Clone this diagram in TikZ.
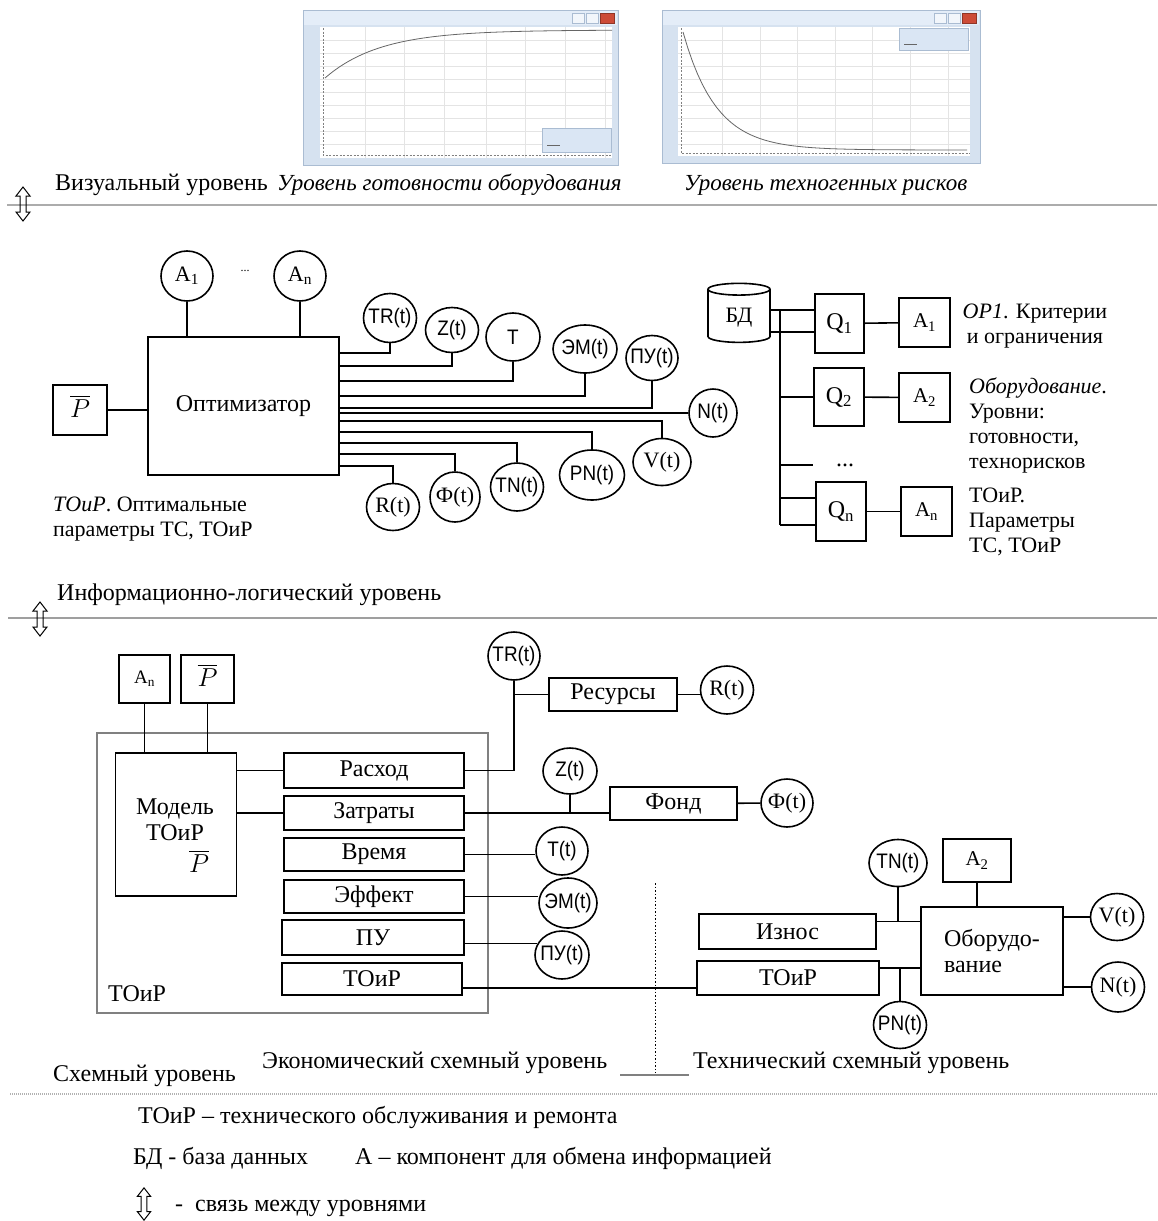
\documentclass[tikz,border=0pt]{standalone}
\usepackage{fix-cm}
\usepackage{fontspec}
\setmainfont{Liberation Serif}
\newfontfamily\circfont{Liberation Sans}[FakeStretch=0.9]
\usepackage{tikz}
\usetikzlibrary{positioning,calc,shapes.geometric}
\definecolor{winedge}{RGB}{170,188,210}
\definecolor{winbody}{RGB}{214,226,240}
\definecolor{wintitle}{RGB}{228,237,248}
\definecolor{winclose}{RGB}{205,75,55}
\definecolor{gridc}{RGB}{228,228,228}
\definecolor{legfill}{RGB}{218,230,244}

\begin{document}
\begin{tikzpicture}[x=1pt, y=-1pt,
    blk/.style={draw, line width=1.6pt, inner sep=2pt, font=\fontsize{24}{26}\selectfont},
    frm/.style={draw=gray, line width=1.2pt, inner sep=0pt},
    circ/.style={ellipse, draw, line width=1.6pt, inner xsep=-6pt, inner ysep=-4pt,
        font=\circfont\fontsize{21}{21}\selectfont},
    circs/.style={circ, font=\fontsize{22}{22}\selectfont},
    txt/.style={inner sep=0pt, font=\fontsize{24}{26}\selectfont},
    txti/.style={txt, font=\itshape\fontsize{23}{26}\selectfont},
    note/.style={inner sep=0pt, align=left, font=\fontsize{22}{25}\selectfont},
    lnk/.style={line width=1.6pt},
    sepline/.style={draw=gray!65, line width=2pt},
    septhin/.style={draw=gray!75, line width=1.2pt},
    sepdot/.style={draw=gray!60, line width=1.6pt, dash pattern=on 1pt off 1pt},
    gridln/.style={draw=gridc, line width=0.6pt},
    axisln/.style={draw=gray, line width=0.6pt, dash pattern=on 2pt off 1.5pt},
    curveln/.style={draw=gray!80!black, line width=0.8pt},
    lvlarrow/.pic={\draw[line width=1pt] (0,-17) -- (-7,-8) -- (-3,-8) -- (-3,8) -- (-7,8)
        -- (0,17) -- (7,8) -- (3,8) -- (3,-8) -- (7,-8) -- cycle;}]
  \useasboundingbox (0,0) rectangle (1157,1221);

  % graph windows
  \filldraw[draw=winedge, fill=winbody] (303,10) rectangle (618,165);
  \fill[wintitle] (304,11) rectangle (617,25);
  \filldraw[draw=winedge, fill=wintitle!50] (572,13) rectangle (584,23);
  \filldraw[draw=winedge, fill=wintitle!50] (586,13) rectangle (598,23);
  \filldraw[draw=winclose!70!black, fill=winclose] (600,13) rectangle (614,23);
  \fill[white] (320,27) rectangle (612,158);
  \foreach \gx in {365,404,444,486,525,565,605} \draw[gridln] (\gx,27) -- (\gx,158);
  \foreach \gy in {40,53,...,150} \draw[gridln] (320,\gy) -- (612,\gy);
  \draw[axisln] (323,28) -- (323,155) -- (612,155);
  \draw[curveln] plot[domain=0:287, samples=60] ({325+\x},{30+48*exp(-\x/55)});
  \filldraw[draw=winedge, fill=legfill] (542,128) rectangle (611,152);
  \draw[curveln] (547,145) -- (560,145);

  \filldraw[draw=winedge, fill=winbody] (662,10) rectangle (980,163);
  \fill[wintitle] (663,11) rectangle (979,25);
  \filldraw[draw=winedge, fill=wintitle!50] (934,13) rectangle (946,23);
  \filldraw[draw=winedge, fill=wintitle!50] (948,13) rectangle (960,23);
  \filldraw[draw=winclose!70!black, fill=winclose] (962,13) rectangle (976,23);
  \fill[white] (678,27) rectangle (970,156);
  \foreach \gx in {722,760,797,835,872,910,948} \draw[gridln] (\gx,27) -- (\gx,156);
  \foreach \gy in {40,53,...,150} \draw[gridln] (678,\gy) -- (970,\gy);
  \draw[axisln] (681,28) -- (681,153) -- (970,153);
  \draw[curveln] plot[domain=0:284, samples=60] ({683+\x},{150-118*exp(-\x/33)});
  \filldraw[draw=winedge, fill=legfill] (899,28) rectangle (968,50);
  \draw[curveln] (904,44) -- (917,44);

  \node[txt, anchor=west] (vislbl) at (55,185) {Визуальный уровень};
  \node[txti, anchor=west] (readylbl) at (277,185) {Уровень готовности оборудования};
  \node[txti, anchor=west] (risklbl) at (684,185) {Уровень техногенных рисков};
  \draw[sepline] (7,205) -- (1157,205);
  \pic at (23,204) {lvlarrow};

  % information-logic level
  \node[blk, minimum width=191pt, minimum height=138pt] (opt) at (243.5,406) {Оптимизатор};
  \node[blk, minimum width=54pt, minimum height=50pt, font=\fontsize{26}{26}\selectfont] (pbar) at (80,410) {$\overline{\mathstrut P}$};
  \node[circs, minimum width=52pt, minimum height=50pt] (a1c) at (187,276) {A\textsubscript{1}};
  \node[circs, minimum width=52pt, minimum height=50pt] (anc) at (300,276) {A\textsubscript{n}};
  \node[txt, font=\fontsize{12}{12}\selectfont] (adots) at (245,271) {...};
  \node[circ, minimum width=53pt, minimum height=49pt] (tr1) at (390,318) {TR(t)};
  \node[circ, minimum width=53pt, minimum height=45pt] (z1) at (452,330) {Z(t)};
  \node[circ, minimum width=54pt, minimum height=48pt] (t1) at (513,337) {T};
  \node[circ, minimum width=64pt, minimum height=48pt] (em1) at (585,349) {ЭМ(t)};
  \node[circ, minimum width=52pt, minimum height=45pt] (pu1) at (652,358) {ПУ(t)};
  \node[circ, minimum width=48pt, minimum height=48pt] (n1) at (713,413) {N(t)};
  \node[circs, minimum width=58pt, minimum height=47pt] (v1) at (662,462) {V(t)};
  \node[circ, minimum width=65pt, minimum height=50pt] (pn1) at (592,475) {PN(t)};
  \node[circ, minimum width=53pt, minimum height=48pt] (tn1) at (517,487) {TN(t)};
  \node[circs, minimum width=50pt, minimum height=50pt] (phi1) at (455,497) {Ф(t)};
  \node[circs, minimum width=53pt, minimum height=47pt] (r1) at (393,507) {R(t)};
  \draw[lnk] (pbar) -- (pbar -| opt.west);
  \draw[lnk] (a1c) -- (a1c |- opt.north);
  \draw[lnk] (anc) -- (anc |- opt.north);
  \draw[lnk] ($(opt.north east)+(0,17)$) -| (tr1);
  \draw[lnk] ($(opt.north east)+(0,30)$) -| (z1);
  \draw[lnk] ($(opt.north east)+(0,45)$) -| (t1);
  \draw[lnk] ($(opt.north east)+(0,60)$) -| (em1);
  \draw[lnk] ($(opt.north east)+(0,72)$) -| (pu1);
  \draw[lnk] (opt.east |- n1) -- (n1);
  \draw[lnk] ($(opt.north east)+(0,85)$) -| (v1);
  \draw[lnk] ($(opt.north east)+(0,96)$) -| (pn1);
  \draw[lnk] ($(opt.north east)+(0,107)$) -| (tn1);
  \draw[lnk] ($(opt.north east)+(0,118)$) -| (phi1);
  \draw[lnk] ($(opt.north east)+(0,130)$) -| (r1);
  \node[note, anchor=west] (optnote) at (53,519) {\textit{ТОиР}. Оптимальные\\параметры ТС, ТОиР};

  \node[draw, cylinder, shape border rotate=90, aspect=0.35, line width=1.6pt, minimum width=62pt,
        minimum height=59pt, font=\fontsize{22}{22}\selectfont] (db) at (739,317.5) {БД};
  \node[blk, minimum width=49pt, minimum height=59pt] (q1) at (839.5,323.5) {Q\textsubscript{1}};
  \node[blk, minimum width=51pt, minimum height=49pt, font=\fontsize{21}{21}\selectfont] (a1b) at (924.5,322.5) {A\textsubscript{1}};
  \node[blk, minimum width=50pt, minimum height=58pt] (q2) at (839,397) {Q\textsubscript{2}};
  \node[blk, minimum width=51pt, minimum height=49pt, font=\fontsize{21}{21}\selectfont] (a2b) at (924.5,397.5) {A\textsubscript{2}};
  \node[blk, minimum width=50pt, minimum height=59pt] (qn) at (841,511.5) {Q\textsubscript{n}};
  \node[blk, minimum width=51pt, minimum height=49pt, font=\fontsize{21}{21}\selectfont] (anb) at (926.5,511.5) {A\textsubscript{n}};
  \node[txt, anchor=west] (qdots) at (836,465) {...};
  \coordinate (bustop) at (780,310);
  \coordinate (bus2) at (780,332);
  \coordinate (bus3) at (780,498);
  \coordinate (busbot) at (780,525);
  \draw[lnk] (db.east |- bustop) -- (q1.west |- bustop);
  \draw[lnk] (db.east |- bus2) -- (q1.west |- bus2);
  \draw[lnk] (bustop) -- (busbot);
  \draw[lnk] (bustop |- q2) -- (q2.west);
  \draw[lnk] (bustop |- qdots.west) -- (q2.west |- qdots.west);
  \draw[lnk] (bus3) -- (qn.west |- bus3);
  \draw[lnk] (busbot) -- (qn.west |- busbot);
  \draw[lnk] (q1) -- (a1b);
  \draw[lnk] (q2) -- (a2b);
  \draw[lnk] (qn) -- (anb);
  \node[note, align=center] (opnote) at (1035,326.5) {\textit{OP1}. Критерии\\и ограничения};
  \node[note, anchor=west] (eqnote) at (969,425) {\textit{Оборудование}.\\Уровни:\\готовности,\\технорисков};
  \node[note, anchor=west] (prnote) at (969,522) {ТОиР.\\Параметры\\ТС, ТОиР};

  \node[txt, anchor=west] (infolbl) at (57,595) {Информационно-логический уровень};
  \draw[septhin] (8,618) -- (1157,618);
  \pic at (40,619) {lvlarrow};

  % scheme level
  \node[frm, minimum width=391pt, minimum height=280pt] (toirfr) at (292.5,873) {};
  \node[txt, anchor=west] (toirlbl) at (108,994) {ТОиР};
  \node[blk, minimum width=121pt, minimum height=143pt] (model) at (176,824.5) {};
  \node[txt, align=center] (modeltxt) at (175,820) {Модель\\ТОиР};
  \node[txt, font=\fontsize{26}{26}\selectfont] (modelp) at (199,865) {$\overline{\mathstrut P}$};
  \node[blk, minimum width=51pt, minimum height=48pt, font=\fontsize{19}{19}\selectfont] (anb2) at (144.5,679) {A\textsubscript{n}};
  \node[blk, minimum width=53pt, minimum height=48pt, font=\fontsize{26}{26}\selectfont] (pbar2) at (207.5,679) {$\overline{\mathstrut P}$};
  \node[blk, minimum width=180pt, minimum height=35pt] (rash) at (374,770.5) {Расход};
  \node[blk, minimum width=180pt, minimum height=34pt] (zat) at (374,813) {Затраты};
  \node[blk, minimum width=180pt, minimum height=33pt] (vrem) at (374,854.5) {Время};
  \node[blk, minimum width=180pt, minimum height=33pt] (eff) at (374,896.5) {Эффект};
  \node[blk, minimum width=182pt, minimum height=35pt] (pu) at (373,937.5) {ПУ};
  \node[blk, minimum width=180pt, minimum height=32pt] (toir1) at (372,979) {ТОиР};
  \draw[lnk] (anb2) -- (anb2 |- model.north);
  \draw[lnk] (pbar2) -- (pbar2 |- model.north);
  \draw[lnk] (rash.west) -- (rash.west -| model.east);
  \draw[lnk] (zat.west) -- (zat.west -| model.east);

  \node[circ, minimum width=52pt, minimum height=48pt] (tr2) at (514,656) {TR(t)};
  \node[blk, minimum width=128pt, minimum height=33pt] (res) at (613,694.5) {Ресурсы};
  \node[circs, minimum width=53pt, minimum height=48pt] (r2) at (727,690) {R(t)};
  \node[circ, minimum width=54pt, minimum height=46pt] (z2) at (570,771) {Z(t)};
  \node[blk, minimum width=127pt, minimum height=33pt] (fond) at (673.5,803.5) {Фонд};
  \node[circs, minimum width=52pt, minimum height=48pt] (phi2) at (787,803) {Ф(t)};
  \node[circ, minimum width=52pt, minimum height=48pt] (t2) at (562,851) {T(t)};
  \node[circ, minimum width=58pt, minimum height=50pt] (em2) at (568,903) {ЭМ(t)};
  \node[circ, minimum width=54pt, minimum height=48pt] (pu2) at (562,955) {ПУ(t)};
  \draw[lnk] (rash.east) -| (tr2);
  \draw[lnk] (tr2 |- res) -- (res.west);
  \draw[lnk] (res.east) -- (res.east -| r2.west);
  \draw[lnk] (zat.east) -- (zat.east -| fond.west);
  \draw[lnk] (z2) -- (z2 |- zat.east);
  \draw[lnk] (fond) -- (phi2);
  \draw[lnk] (vrem.east) -- (vrem.east -| t2.west);
  \draw[lnk] (eff.east) -- (eff.east -| em2.west);
  \draw[lnk] (pu.east |- pu2.155) -- (pu2.155);

  \node[blk, minimum width=177pt, minimum height=35pt] (izn) at (787.5,931.5) {Износ};
  \node[blk, minimum width=182pt, minimum height=34pt] (toir2) at (788,978) {ТОиР};
  \node[blk, minimum width=142pt, minimum height=88pt, align=left] (obor) at (992,951) {Оборудо-\\вание};
  \node[blk, minimum width=68pt, minimum height=43pt, font=\fontsize{21}{21}\selectfont] (a2box) at (977,860.5) {A\textsubscript{2}};
  \node[circ, minimum width=58pt, minimum height=47pt] (tn2) at (898,863) {TN(t)};
  \node[circ, minimum width=53pt, minimum height=47pt] (pn2) at (900,1025) {PN(t)};
  \node[circs, minimum width=53pt, minimum height=47pt] (v2) at (1117,917) {V(t)};
  \node[circs, minimum width=53pt, minimum height=50pt] (n2) at (1118,987) {N(t)};
  \coordinate (jizn) at ([yshift=10pt]izn.east);
  \coordinate (jtoir) at ([yshift=10pt]toir2.east);
  \coordinate (jlong) at ([yshift=-9pt]toir1.east);
  \draw[lnk] (jlong) -- (jlong -| toir2.west);
  \draw[lnk] (jizn) -- (jizn -| obor.west);
  \draw[lnk] (jtoir) -- (jtoir -| obor.west);
  \draw[lnk] (tn2) -- (tn2 |- jizn);
  \draw[lnk] (pn2) -- (pn2 |- jtoir);
  \draw[lnk] (a2box) -- (a2box |- obor.north);
  \draw[lnk] (v2) -- (v2 -| obor.east);
  \draw[lnk] (n2) -- (n2 -| obor.east);

  \draw[line width=1pt, dash pattern=on 1.5pt off 2pt] (655,883) -- (655,1073);
  \draw[draw=gray, line width=1.2pt] (620,1075) -- (689,1075);
  \node[txt, anchor=west] (ecolbl) at (262,1063) {Экономический схемный уровень};
  \node[txt, anchor=west] (teclbl) at (693,1063) {Технический схемный уровень};
  \node[txt, anchor=west] (schlbl) at (53,1076) {Схемный уровень};
  \draw[sepdot] (10,1094) -- (1157,1094);

  % legend
  \node[txt, anchor=west] (lg1) at (138,1117) {ТОиР – технического обслуживания и ремонта};
  \node[txt, anchor=west] (lg2) at (133,1158) {БД - база данных};
  \node[txt, anchor=west] (lg3) at (355,1158) {А – компонент для обмена информацией};
  \pic[scale=0.95] at (144,1204) {lvlarrow};
  \node[txt, anchor=west] (lg4) at (175,1208) {-\ \ связь между уровнями};
\end{tikzpicture}
\end{document}
